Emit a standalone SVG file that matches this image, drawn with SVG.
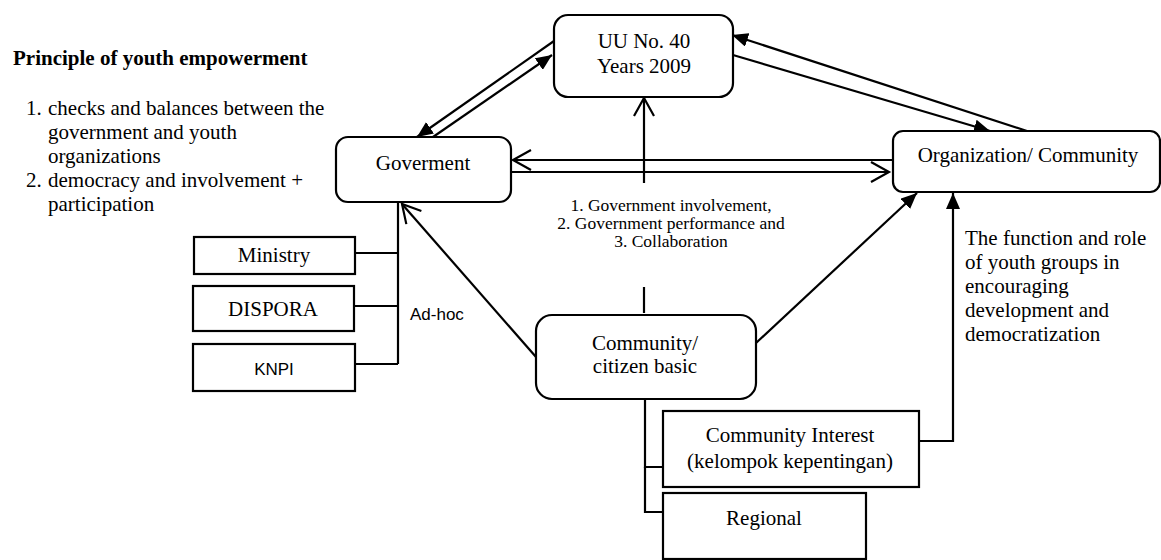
<svg xmlns="http://www.w3.org/2000/svg" width="1161" height="560" viewBox="0 0 1161 560">
<style>
.box{fill:#fff;stroke:#000;stroke-width:2.2}
.t{font-family:"Liberation Serif","Times New Roman",serif;font-size:21px;fill:#000}
.m{text-anchor:middle}
.sm{font-size:17.5px}
.s{font-family:"Liberation Sans",Arial,sans-serif;font-size:17px;fill:#000}
.c{stroke:#000;stroke-width:2.2;fill:none}
.fa{marker-end:url(#fill)}
.oa{marker-end:url(#open)}
</style>
<defs>
<marker id="fill" markerUnits="userSpaceOnUse" markerWidth="18" markerHeight="14" refX="16" refY="7" orient="auto"><path d="M0,0 L16,7 L0,14 z" fill="#000"/></marker>
<marker id="open" markerUnits="userSpaceOnUse" markerWidth="24" markerHeight="24" refX="19" refY="11" orient="auto" overflow="visible"><path d="M1,1 L19,11 L1,21" fill="none" stroke="#000" stroke-width="2.2"/></marker>
</defs>
<rect width="1161" height="560" fill="#fff"/>

<g id="principles">
<text class="t" x="13" y="65" font-weight="bold">Principle of youth empowerment</text>
<text class="t" x="26" y="115">1.</text><text class="t" x="48" y="115">checks and balances between the</text>
<text class="t" x="48" y="139">government and youth</text>
<text class="t" x="48" y="163">organizations</text>
<text class="t" x="26" y="187">2.</text><text class="t" x="48" y="187">democracy and involvement +</text>
<text class="t" x="48" y="211">participation</text>
</g>

<g id="connectors">
<line class="c fa" x1="554" y1="41" x2="417" y2="137"/>
<line class="c fa" x1="433" y1="137" x2="552" y2="55"/>
<line class="c fa" x1="1027" y1="131" x2="732" y2="35"/>
<line class="c fa" x1="733" y1="55" x2="990" y2="131"/>
<line class="c oa" x1="893" y1="160" x2="513" y2="160"/>
<line class="c oa" x1="511" y1="172" x2="889" y2="172"/>
<line class="c oa" x1="644" y1="183" x2="644" y2="98"/>
<line class="c" x1="644" y1="287" x2="644" y2="313"/>
<line class="c oa" x1="536" y1="357" x2="402" y2="204"/>
<line class="c fa" x1="756" y1="343" x2="917" y2="193"/>
<polyline class="c" points="663,467 645,467 645,399"/>
<polyline class="c" points="663,512 645,512 645,467"/>
<polyline class="c fa" points="919,441 953,441 953,193"/>
<line class="c" x1="398" y1="202" x2="398" y2="364"/>
<line class="c" x1="355" y1="253" x2="398" y2="253"/>
<line class="c" x1="354" y1="306" x2="398" y2="306"/>
<line class="c" x1="355" y1="364" x2="398" y2="364"/>
<text class="s" x="410" y="320">Ad-hoc</text>
<text class="t m sm" x="671" y="211">1. Government involvement,</text>
<text class="t m sm" x="671" y="229">2. Government performance and</text>
<text class="t m sm" x="671" y="247">3. Collaboration</text>
<text class="t" x="965" y="245">The function and role</text>
<text class="t" x="965" y="269">of youth groups in</text>
<text class="t" x="965" y="293">encouraging</text>
<text class="t" x="965" y="317">development and</text>
<text class="t" x="965" y="341">democratization</text>
</g>

<g id="uu">
<rect class="box" x="554" y="15" width="179" height="82" rx="14"/>
<text class="t m" x="644" y="48">UU No. 40</text>
<text class="t m" x="644" y="73">Years 2009</text>
</g>
<g id="government">
<rect class="box" x="336" y="137" width="175" height="65" rx="12"/>
<text class="t m" x="423" y="170">Goverment</text>
</g>
<g id="organization">
<rect class="box" x="893" y="131" width="267" height="61" rx="10"/>
<text class="t m" x="1028" y="162">Organization/ Community</text>
</g>
<g id="community">
<rect class="box" x="536" y="315" width="220" height="84" rx="16"/>
<text class="t m" x="645" y="350">Community/</text>
<text class="t m" x="645" y="373">citizen basic</text>
</g>
<g id="ministry">
<rect class="box" x="194" y="237" width="161" height="37"/>
<text class="t m" x="274" y="262">Ministry</text>
</g>
<g id="dispora">
<rect class="box" x="193" y="286" width="161" height="45"/>
<text class="t m" x="273" y="316">DISPORA</text>
</g>
<g id="knpi">
<rect class="box" x="193" y="344" width="162" height="47"/>
<text class="s m" x="274" y="375">KNPI</text>
</g>
<g id="interest">
<rect class="box" x="663" y="411" width="256" height="76"/>
<text class="t m" x="790" y="442">Community Interest</text>
<text class="t m" x="790" y="468">(kelompok kepentingan)</text>
</g>
<g id="regional">
<rect class="box" x="663" y="493" width="203" height="66"/>
<text class="t m" x="764" y="525" font-size="23">Regional</text>
</g>
</svg>
